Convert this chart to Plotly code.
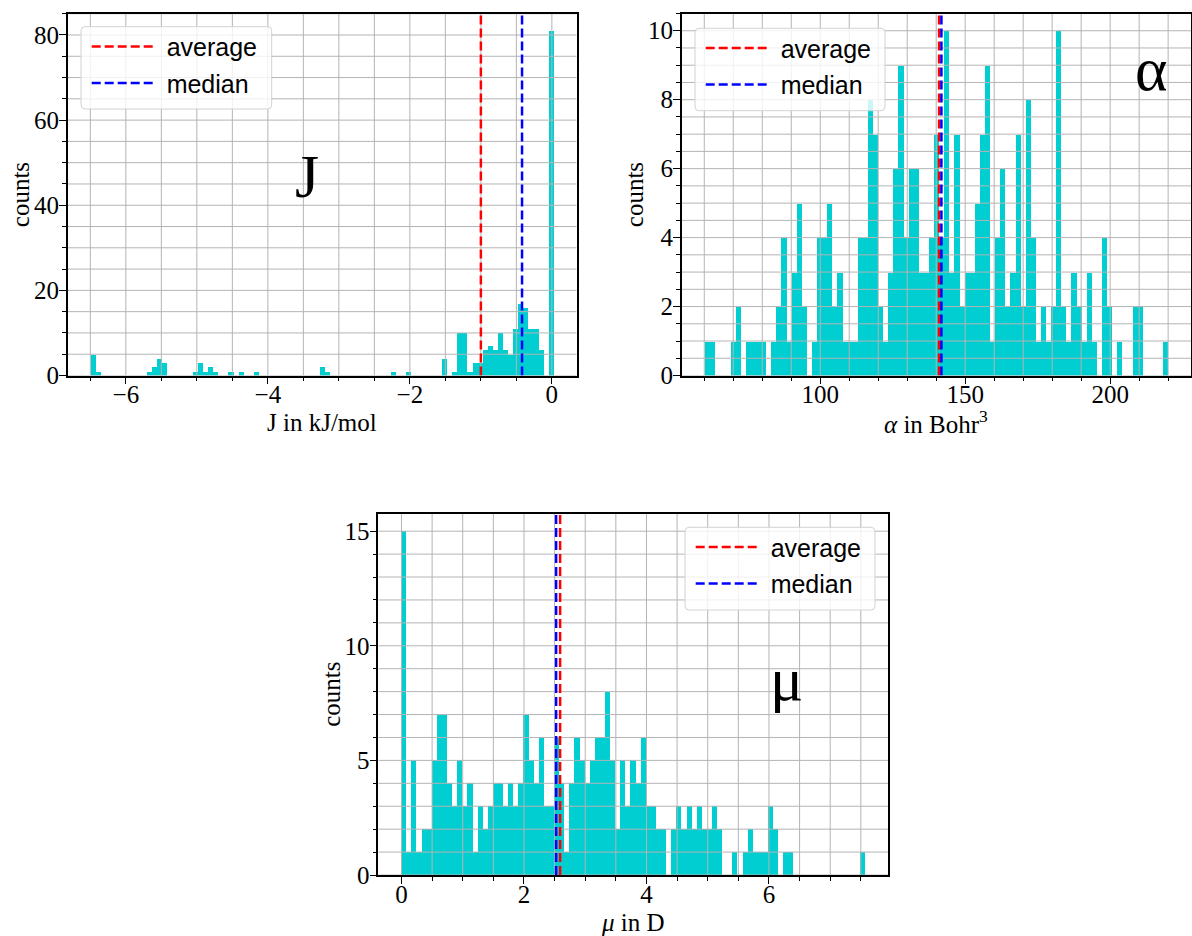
import numpy as np
import plotly.graph_objects as go

# ---------------- data ----------------
N_BINS = 91

# J histogram (kJ/mol)
J_MIN, J_MAX = -6.493, 0.024
J_counts = [5, 1, 0, 0, 0, 0, 0, 0, 0, 0,
            0, 1, 2, 4, 3, 0, 0, 0, 0, 0,
            1, 3, 1, 2, 1, 0, 0, 1, 0, 1,
            0, 0, 1, 0, 0, 0, 0, 0, 0, 0,
            0, 0, 0, 0, 0, 2, 1, 0, 0, 0,
            0, 0, 0, 0, 0, 0, 0, 0, 0, 1,
            0, 0, 1, 0, 0, 0, 0, 0, 0, 4,
            0, 1, 10, 10, 1, 3, 3, 6, 7, 6,
            10, 6, 5, 11, 17, 16, 11, 11, 6, 0,
            81]
J_mean, J_median = -1.00, -0.42

# alpha histogram (Bohr^3)
A_MIN, A_MAX = 60.2, 219.9
A_counts = [1, 1, 0, 0, 0, 1, 2, 0, 1, 1,
            1, 1, 0, 1, 2, 4, 1, 3, 5, 2,
            0, 1, 4, 4, 5, 2, 3, 1, 1, 1,
            4, 4, 8, 7, 2, 1, 3, 6, 9, 4,
            6, 6, 3, 3, 4, 7, 4, 10, 3, 7,
            2, 3, 3, 5, 7, 9, 1, 4, 6, 2,
            3, 7, 2, 8, 4, 1, 2, 1, 2, 10,
            2, 1, 3, 2, 1, 3, 1, 0, 4, 2,
            0, 1, 0, 0, 2, 2, 0, 0, 0, 0,
            1]
A_mean, A_median = 141.0, 141.8

# mu histogram (D)
M_MIN, M_MAX = 0.0, 7.57
M_counts = [15, 1, 5, 1, 2, 2, 5, 7, 7, 4,
            3, 5, 3, 4, 1, 3, 2, 3, 4, 4,
            3, 4, 3, 4, 7, 5, 4, 6, 3, 3,
            6, 4, 1, 4, 6, 5, 4, 5, 6, 6,
            8, 5, 2, 5, 3, 5, 4, 6, 3, 3,
            2, 2, 0, 2, 3, 2, 3, 2, 3, 2,
            2, 3, 2, 0, 0, 1, 0, 1, 2, 1,
            1, 1, 3, 2, 0, 1, 1, 0, 0, 0,
            0, 0, 0, 0, 0, 0, 0, 0, 0, 0,
            1]
M_mean, M_median = 2.59, 2.525

LEGEND_NAMES = ["average", "median"]
PANEL_LETTERS = ["J", "α", "μ"]
X_TITLES = ["J in kJ/mol", "<i>α</i> in Bohr<sup>3</sup>", "<i>μ</i> in D"]
Y_TITLE = "counts"

# ---------------- style ----------------
W, H = 1192, 936
BAR_COLOR = "#00CED1"
GRID_COLOR = "#b4b4b4"
SERIF = "Liberation Serif"
SANS = "Liberation Sans"

panels = [
    dict(lo=J_MIN, hi=J_MAX, counts=J_counts, mean=J_mean, median=J_median,
         px=(67.7, 576.7), py=(13.5, 375.5), xd=2, xm=0.5, yd=20, ym=5,
         letter_pos=(-3.445, 46.8), box=(81, 26.7, 271.7, 109)),
    dict(lo=A_MIN, hi=A_MAX, counts=A_counts, mean=A_mean, median=A_median,
         px=(681.7, 1191.0), py=(13.5, 375.5), xd=50, xm=10, yd=2, ym=0.5,
         letter_pos=(214.2, 8.9), box=(695, 28.3, 885, 110.7)),
    dict(lo=M_MIN, hi=M_MAX, counts=M_counts, mean=M_mean, median=M_median,
         px=(378.3, 888.3), py=(514.0, 875.0), xd=2, xm=0.5, yd=5, ym=1,
         letter_pos=(6.28, 8.53), box=(685, 527.3, 875, 610)),
]


def rounded_box(x0, y0, x1, y1, r=4):
    """SVG path (paper coords) of a rounded rectangle given in pixels."""
    fx = lambda v: v / W
    fy = lambda v: 1 - v / H
    pts = [
        f"M{fx(x0 + r)},{fy(y0)}", f"L{fx(x1 - r)},{fy(y0)}",
        f"Q{fx(x1)},{fy(y0)} {fx(x1)},{fy(y0 + r)}", f"L{fx(x1)},{fy(y1 - r)}",
        f"Q{fx(x1)},{fy(y1)} {fx(x1 - r)},{fy(y1)}", f"L{fx(x0 + r)},{fy(y1)}",
        f"Q{fx(x0)},{fy(y1)} {fx(x0)},{fy(y1 - r)}", f"L{fx(x0)},{fy(y0 + r)}",
        f"Q{fx(x0)},{fy(y0)} {fx(x0 + r)},{fy(y0)}", "Z"]
    return " ".join(pts)


fig = go.Figure()
annotations, shapes = [], []
layout = dict(width=W, height=H, autosize=False, margin=dict(l=0, r=0, t=0, b=0, pad=0),
              paper_bgcolor="white", plot_bgcolor="white", bargap=0,
              showlegend=True)

for k, p in enumerate(panels):
    sfx = "" if k == 0 else str(k + 1)
    xa, ya = "x" + sfx, "y" + sfx
    leg = "legend" + sfx
    counts = np.array(p["counts"], dtype=float)
    edges = np.linspace(p["lo"], p["hi"], N_BINS + 1)
    centers = 0.5 * (edges[:-1] + edges[1:])
    bw = edges[1] - edges[0]
    span = p["hi"] - p["lo"]
    xr = [p["lo"] - 0.05 * span, p["hi"] + 0.05 * span]
    yr = [0, 1.05 * counts.max()]

    fig.add_trace(go.Bar(x=centers, y=counts, width=bw, xaxis=xa, yaxis=ya,
                         marker=dict(color=BAR_COLOR, line=dict(width=0)),
                         showlegend=False, hoverinfo="skip"))

    # grid drawn above the bars (as in the reference)
    gx = np.arange(np.ceil(xr[0] / p["xm"]) * p["xm"], xr[1], p["xm"])
    gy = np.arange(0, yr[1] + 1e-9, p["ym"])
    xs, ys = [], []
    for v in gx:
        xs += [v, v, None]
        ys += [yr[0], yr[1], None]
    for v in gy:
        xs += [xr[0], xr[1], None]
        ys += [v, v, None]
    fig.add_trace(go.Scatter(x=xs, y=ys, mode="lines", xaxis=xa, yaxis=ya,
                             line=dict(color=GRID_COLOR, width=1),
                             showlegend=False, hoverinfo="skip"))

    for name, val, col in [(LEGEND_NAMES[0], p["mean"], "#ff0000"),
                           (LEGEND_NAMES[1], p["median"], "#0000ff")]:
        fig.add_trace(go.Scatter(x=[val, val], y=yr, mode="lines", name="\u00a0" + name,
                                 xaxis=xa, yaxis=ya, legend=leg, legendgroup=name + sfx,
                                 line=dict(color=col, width=2.5, dash="9px,4px"),
                                 hoverinfo="skip"))

    xdom = [p["px"][0] / W, p["px"][1] / W]
    ydom = [1 - p["py"][1] / H, 1 - p["py"][0] / H]
    common = dict(showline=True, linecolor="black", linewidth=1.5, mirror=True,
                  ticks="outside", ticklen=7, tickwidth=1.2, tickcolor="black",
                  showgrid=False, zeroline=False, tick0=0, automargin=False,
                  tickfont=dict(family=SERIF, size=25, color="black"))
    layout["xaxis" + sfx] = dict(common, domain=xdom, range=xr, dtick=p["xd"], anchor=ya,
                                 ticklabelstandoff=-11,
                                 minor=dict(dtick=p["xm"], tick0=0, ticks="outside", ticklen=4,
                                            tickwidth=1, tickcolor="black", showgrid=False))
    layout["yaxis" + sfx] = dict(common, domain=ydom, range=yr, dtick=p["yd"], anchor=xa,
                                 ticklabelstandoff=-5,
                                 minor=dict(dtick=p["ym"], tick0=0, ticks="outside", ticklen=4,
                                            tickwidth=1, tickcolor="black", showgrid=False))

    bx0, by0, bx1, by1 = p["box"]
    shapes.append(dict(type="path", xref="paper", yref="paper", layer="above",
                       path=rounded_box(bx0, by0, bx1, by1),
                       fillcolor="rgba(255,255,255,0.8)",
                       line=dict(color="#d2d2d2", width=1)))
    layout[leg] = dict(x=(bx0 + 5.7) / W, y=1 - (by0 - 3) / H,
                       xanchor="left", yanchor="top",
                       bgcolor="rgba(0,0,0,0)", borderwidth=0,
                       font=dict(family=SANS, size=25, color="black"),
                       tracegroupgap=1, itemwidth=63)

    # axis titles
    annotations.append(dict(text=X_TITLES[k], xref="paper", yref="paper",
                            x=(p["px"][0] + p["px"][1]) / 2 / W, y=1 - (p["py"][1] + 47) / H,
                            xanchor="center", yanchor="middle", showarrow=False,
                            font=dict(family=SERIF, size=25, color="black")))
    annotations.append(dict(text=Y_TITLE, xref="paper", yref="paper", textangle=-90,
                            x=(p["px"][0] - 47) / W, y=1 - (p["py"][0] + p["py"][1]) / 2 / H,
                            xanchor="center", yanchor="middle", showarrow=False,
                            font=dict(family=SERIF, size=25, color="black")))
    # big panel letter
    annotations.append(dict(text=PANEL_LETTERS[k], xref=xa, yref=ya,
                            x=p["letter_pos"][0], y=p["letter_pos"][1],
                            xanchor="center", yanchor="middle", showarrow=False,
                            font=dict(family=SERIF, size=62, color="black")))

layout["annotations"] = annotations
layout["shapes"] = shapes
fig.update_layout(**layout)

fig.write_html("out.html", config={"displayModeBar": False, "responsive": False},
               post_script="document.body.style.margin='0';document.body.style.overflow='hidden';")
